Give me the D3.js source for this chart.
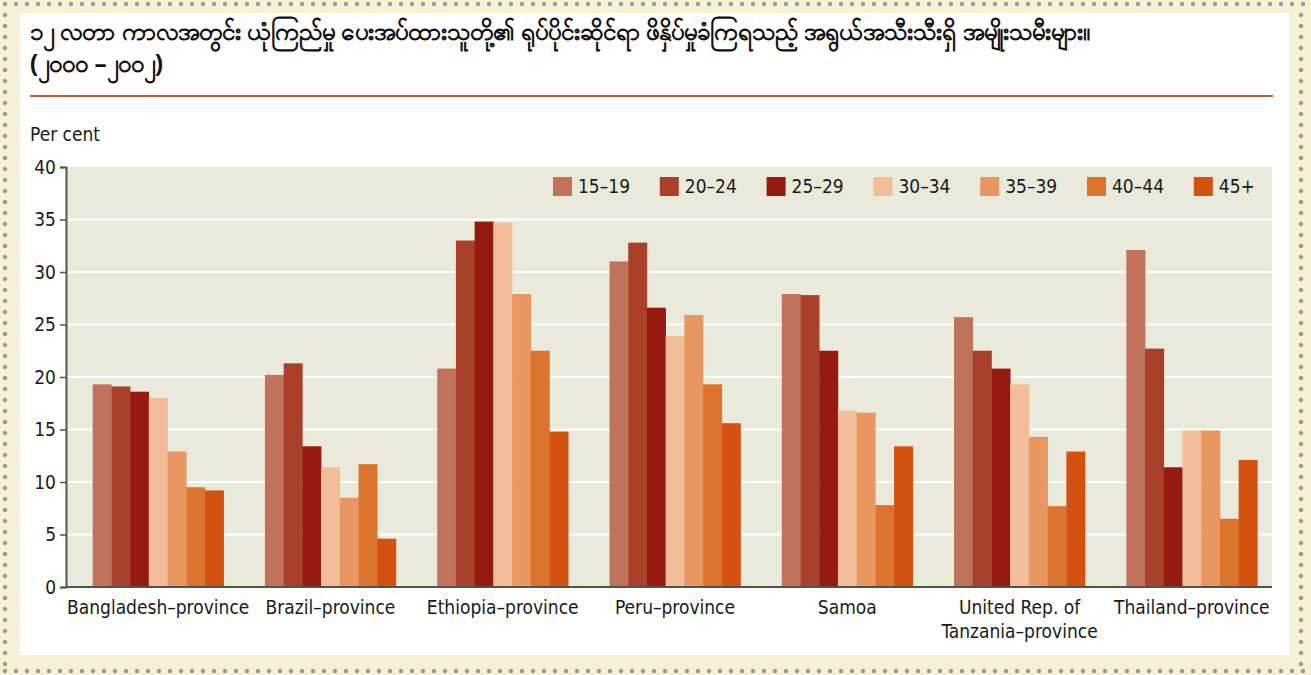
<!DOCTYPE html>
<html>
<head>
<meta charset="utf-8">
<script src="https://cdn.jsdelivr.net/npm/d3@7"></script>
<style>
  body { margin: 0; background: #f6f1d6; }
  svg { display: block; }
  .lbl { font-family: "Liberation Sans Narrow", "DejaVu Sans Condensed", "Noto Sans", sans-serif; fill: #1a1a1a; }
</style>
</head>
<body>
<svg id="chart" width="1311" height="675"></svg>
<script>
var categories = ["Bangladesh–province", "Brazil–province", "Ethiopia–province", "Peru–province", "Samoa", "United Rep. of|Tanzania–province", "Thailand–province"]
var ageGroups = ["15–19", "20–24", "25–29", "30–34", "35–39", "40–44", "45+"]
var colors = ["#c0735a", "#a8402a", "#961a10", "#f2bd98", "#e89760", "#dc742e", "#d4520f"]

// one array per age group, values in the order of categories
var age15 = [19.3, 20.2, 20.8, 31.0, 27.9, 25.7, 32.1]
var age20 = [19.1, 21.3, 33.0, 32.8, 27.8, 22.5, 22.7]
var age25 = [18.6, 13.4, 34.8, 26.6, 22.5, 20.8, 11.4]
var age30 = [18.0, 11.4, 34.7, 23.9, 16.8, 19.3, 14.9]
var age35 = [12.9, 8.5, 27.9, 25.9, 16.6, 14.3, 14.9]
var age40 = [9.5, 11.7, 22.5, 19.3, 7.8, 7.7, 6.5]
var age45 = [9.2, 4.6, 14.8, 15.6, 13.4, 12.9, 12.1]
var series = [age15, age20, age25, age30, age35, age40, age45]

var yTicks = [0, 5, 10, 15, 20, 25, 30, 35, 40]
var titleLines = ["၁၂ လတာ ကာလအတွင်း ယုံကြည်မှု ပေးအပ်ထားသူတို့၏ ရုပ်ပိုင်းဆိုင်ရာ ဖိနှိပ်မှုခံကြရသည့် အရွယ်အသီးသီးရှိ အမျိုးသမီးများ။", "(၂၀၀၀ –၂၀၀၂)"]

var W = 1311, H = 675
var svg = d3.select("#chart")

// dotted frame
var dots = svg.append("g").attr("fill", "#9a9a9a")
for (var dx = 5; dx <= W - 4; dx += 11) {
    dots.append("circle").attr("cx", dx).attr("cy", 4).attr("r", 2.2)
    dots.append("circle").attr("cx", dx).attr("cy", 671).attr("r", 2.2)
}
for (var dy = 15; dy <= 665; dy += 11) {
    dots.append("circle").attr("cx", 5).attr("cy", dy).attr("r", 2.2)
    dots.append("circle").attr("cx", 1301).attr("cy", dy).attr("r", 2.2)
}

// white panel
svg.append("rect").attr("x", 20).attr("y", 13).attr("width", 1269).attr("height", 642).attr("fill", "#ffffff")

// title
svg.selectAll(".title").data(titleLines).enter().append("text")
    .attr("class", "title")
    .attr("x", 30)
    .attr("y", function (d, i) { return 40 + i * 32 })
    .attr("font-family", "'Noto Sans', 'DejaVu Sans', sans-serif")
    .attr("font-size", 24.3)
    .attr("font-weight", "bold")
    .attr("fill", "#111")
    .text(function (d) { return d })

svg.append("line").attr("x1", 30).attr("x2", 1273).attr("y1", 96).attr("y2", 96)
    .attr("stroke", "#b5653f").attr("stroke-width", 2)

var plotLeft = 67, plotRight = 1272, plotTop = 167, plotBottom = 587

var y = d3.scaleLinear().domain([0, 40]).range([plotBottom, plotTop])

var x0 = d3.scaleBand().domain(categories).range([72, 1278]).padding(0)
var x1 = d3.scaleBand().domain(ageGroups).range([0, 131]).padding(0)

// plot background
svg.append("rect").attr("x", plotLeft).attr("y", plotTop)
    .attr("width", plotRight - plotLeft).attr("height", plotBottom - plotTop)
    .attr("fill", "#e9eadb")

// gridlines
svg.append("g").selectAll("line").data(yTicks.filter(function (t) { return t > 0 && t < 40 })).enter()
    .append("line")
    .attr("x1", plotLeft).attr("x2", plotRight)
    .attr("y1", function (d) { return y(d) }).attr("y2", function (d) { return y(d) })
    .attr("stroke", "#ffffff").attr("stroke-width", 2)

// "Per cent"
svg.append("text").attr("class", "lbl").attr("x", 30).attr("y", 141).attr("font-size", 19).text("Per cent")

// legend
var legend = svg.append("g").selectAll("g").data(ageGroups).enter().append("g")
    .attr("transform", function (d, i) { return "translate(" + (553 + i * 106.8) + ",177)" })
legend.append("rect").attr("width", 19).attr("height", 19).attr("fill", function (d, i) { return colors[i] })
legend.append("text").attr("class", "lbl").attr("x", 25).attr("y", 16).attr("font-size", 19)
    .text(function (d) { return d })

// bars
var groups = svg.append("g").selectAll("g").data(categories).enter().append("g")
    .attr("transform", function (d) { return "translate(" + (x0(d) + x0.bandwidth() / 2 - 65.5) + ",0)" })

groups.selectAll("rect")
    .data(function (d, ci) { return ageGroups.map(function (a, ai) { return { age: a, i: ai, v: series[ai][ci] } }) })
    .enter().append("rect")
    .attr("x", function (d) { return x1(d.age) })
    .attr("width", x1.bandwidth() + 0.3)
    .attr("y", function (d) { return y(d.v) })
    .attr("height", function (d) { return y(0) - y(d.v) })
    .attr("fill", function (d) { return colors[d.i] })

// y axis
var yAxis = d3.axisLeft(y).tickValues(yTicks).tickSize(6).tickPadding(4)
var gy = svg.append("g").attr("transform", "translate(" + (plotLeft - 1) + ",0)").call(yAxis)
gy.attr("font-family", null).attr("font-size", null)
gy.select(".domain").attr("stroke", "#55524a").attr("stroke-width", 2)
gy.selectAll(".tick line").attr("stroke", "#55524a").attr("stroke-width", 1.5)
gy.selectAll(".tick text").attr("class", "lbl").attr("font-size", 19).attr("fill", "#1a1a1a")

// baseline
svg.append("line").attr("x1", plotLeft - 1).attr("x2", plotRight).attr("y1", plotBottom).attr("y2", plotBottom)
    .attr("stroke", "#55524a").attr("stroke-width", 2)

// category labels
svg.append("g").selectAll("text").data(categories).enter().append("text")
    .attr("class", "lbl")
    .attr("text-anchor", "middle")
    .attr("font-size", 19)
    .attr("x", function (d) { return x0(d) + x0.bandwidth() / 2 })
    .attr("y", 614)
    .each(function (d) {
        var parts = d.split("|")
        var t = d3.select(this)
        parts.forEach(function (p, i) {
            t.append("tspan").attr("x", x0(d) + x0.bandwidth() / 2).attr("dy", i === 0 ? 0 : 24).text(p)
        })
    })
</script>
</body>
</html>
